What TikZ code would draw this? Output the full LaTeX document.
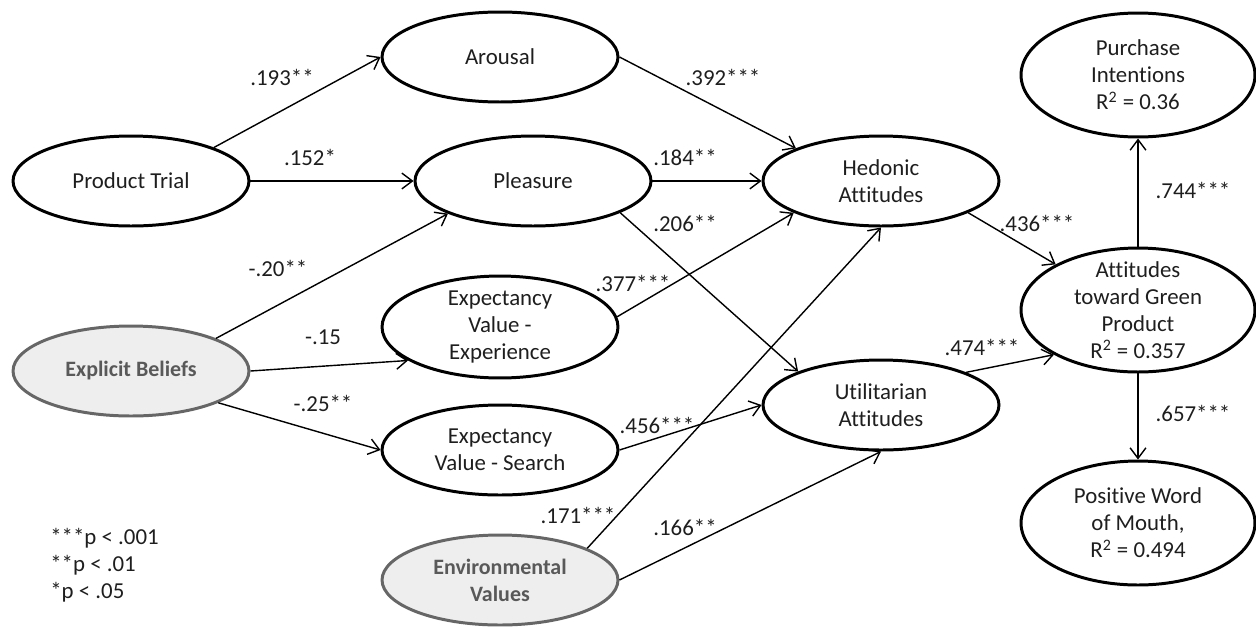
\documentclass[tikz,border=0pt]{standalone}
\usepackage{fontspec}
\setmainfont{Carlito}[Ligatures={NoCommon}]
\usetikzlibrary{shapes.geometric,arrows.meta}
\definecolor{txt}{HTML}{1E1E1E}
\definecolor{gfill}{HTML}{EEEEEE}
\definecolor{gdraw}{HTML}{666666}
\definecolor{gtext}{HTML}{595959}
\tikzset{
  fnt/.style={font=\fontsize{13}{15.3}\selectfont},
  ell/.style={ellipse, draw=black, line width=1.7pt, minimum width=4.72cm, minimum height=1.8cm,
              inner sep=0pt, align=center, fnt, text=txt},
  bigell/.style={ell, minimum width=4.68cm, minimum height=2.48cm},
  grayell/.style={ell, fill=gfill, draw=gdraw, text=gtext, font=\fontsize{12.5}{15.3}\selectfont\bfseries},
  arr/.style={-{Straight Barb[length=6pt,width=9pt]}, line width=0.8pt, draw=black},
  lab/.style={fnt, text=txt, inner sep=0pt},
}
\begin{document}
\begin{tikzpicture}[x=0.02cm, y=-0.02cm]
\useasboundingbox (0,0) rectangle (1256,626);
% nodes
\node[ell] (pt) at (131,181) {Product Trial};
\node[ell] (ar) at (500,57) {Arousal};
\node[ell] (pl) at (533,181) {Pleasure};
\node[ell] (he) at (881,181) {Hedonic\\Attitudes};
\node[grayell] (eb) at (131,371) {Explicit Beliefs};
\node[ell] (ee) at (500,327) {Expectancy\\Value -\\Experience};
\node[ell] (es) at (500,450) {Expectancy\\Value - Search};
\node[ell] (ut) at (881,405) {Utilitarian\\Attitudes};
\node[grayell] (ev) at (500,580) {Environmental\\Values};
\node[bigell] (pi) at (1138,75) {Purchase\\Intentions\\R\textsuperscript{2} = 0.36};
\node[bigell] (atg) at (1138,310) {};
\node[lab, align=center] (atgt) at (atg) {Attitudes\\toward Green\\Product\\R\textsuperscript{2} = 0.357};
\node[bigell] (pw) at (1138,523) {Positive Word\\of Mouth,\\R\textsuperscript{2} = 0.494};
% connectors
\draw[arr] (pt.22) -- (ar.west);
\draw[arr] (pt.east) -- (pl.west);
\draw[arr] (eb.21) -- (pl.201);
\draw[arr] (eb.east) -- (ee.200);
\draw[arr] (eb.-20) -- (es.west);
\draw[arr] (ar.east) -- (he.159);
\draw[arr] (pl.east) -- (he.west);
\draw[arr] (pl.-20) -- (ut.158);
\draw[arr] (ee.5) -- (he.200);
\draw[arr] (es.east) -- (ut.west);
\draw[arr] (ev.20) -- (he.south);
\draw[arr] (ev.east) -- (ut.south);
\draw[arr] (he.-20) -- (atg.151);
\draw[arr] (ut.21) -- (atg.208);
\draw[arr] (atg.north) -- (pi.south);
\draw[arr] (atg.south) -- (pw.north);
% coefficient labels
\node[lab] (l1) at (282,77) {.193**};
\node[lab] (l2) at (310,157) {.152*};
\node[lab] (l3) at (278,268) {-.20**};
\node[lab] (l4) at (323,337) {-.15};
\node[lab] (l5) at (323,403) {-.25**};
\node[lab] (l6) at (723,77) {.392***};
\node[lab] (l7) at (685,157) {.184**};
\node[lab] (l8) at (685,223) {.206**};
\node[lab] (l9) at (633,283) {.377***};
\node[lab] (l10) at (657,425) {.456***};
\node[lab] (l11) at (578,515) {.171***};
\node[lab] (l12) at (685,527) {.166**};
\node[lab] (l13) at (1037,223) {.436***};
\node[lab] (l14) at (982,347) {.474***};
\node[lab] (l15) at (1193,190) {.744***};
\node[lab] (l16) at (1193,413) {.657***};
% legend
\node[lab, align=left, anchor=west] (leg) at (50,565) {***p < .001\\**p < .01\\*p < .05};
\end{tikzpicture}
\end{document}
